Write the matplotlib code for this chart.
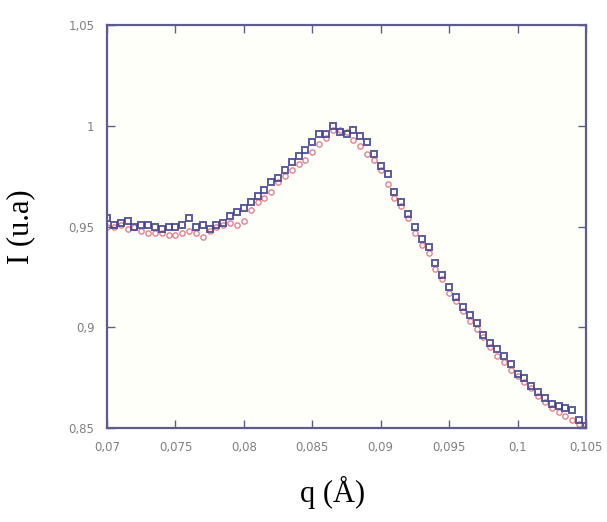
import numpy as np
import matplotlib
matplotlib.use("Agg")
import matplotlib.pyplot as plt
from matplotlib.ticker import FixedLocator, FixedFormatter

q = [0.0700, 0.0705, 0.0710, 0.0715, 0.0720, 0.0725, 0.0730, 0.0735, 0.0740, 0.0745,
     0.0750, 0.0755, 0.0760, 0.0765, 0.0770, 0.0775, 0.0780, 0.0785, 0.0790, 0.0795,
     0.0800, 0.0805, 0.0810, 0.0815, 0.0820, 0.0825, 0.0830, 0.0835, 0.0840, 0.0845,
     0.0850, 0.0855, 0.0860, 0.0865, 0.0870, 0.0875, 0.0880, 0.0885, 0.0890, 0.0895,
     0.0900, 0.0905, 0.0910, 0.0915, 0.0920, 0.0925, 0.0930, 0.0935, 0.0940, 0.0945,
     0.0950, 0.0955, 0.0960, 0.0965, 0.0970, 0.0975, 0.0980, 0.0985, 0.0990, 0.0995,
     0.1000, 0.1005, 0.1010, 0.1015, 0.1020, 0.1025, 0.1030, 0.1035, 0.1040, 0.1045,
     0.1050]

I_blue = [0.954, 0.951, 0.952, 0.953, 0.950, 0.951, 0.951, 0.950, 0.949, 0.950,
          0.950, 0.951, 0.954, 0.950, 0.951, 0.949, 0.951, 0.952, 0.955, 0.957,
          0.959, 0.962, 0.965, 0.968, 0.972, 0.974, 0.978, 0.982, 0.985, 0.988,
          0.992, 0.996, 0.996, 1.000, 0.997, 0.996, 0.998, 0.995, 0.992, 0.986,
          0.980, 0.976, 0.967, 0.962, 0.956, 0.950, 0.944, 0.940, 0.932, 0.926,
          0.920, 0.915, 0.910, 0.906, 0.902, 0.896, 0.892, 0.889, 0.886, 0.882,
          0.877, 0.875, 0.871, 0.868, 0.865, 0.862, 0.861, 0.860, 0.859, 0.854,
          0.851]

I_red = [0.950, 0.950, 0.951, 0.949, 0.950, 0.948, 0.947, 0.947, 0.947, 0.946,
         0.946, 0.947, 0.948, 0.947, 0.945, 0.948, 0.950, 0.951, 0.952, 0.951,
         0.953, 0.958, 0.962, 0.964, 0.967, 0.972, 0.975, 0.978, 0.981, 0.983,
         0.987, 0.991, 0.994, 0.998, 0.998, 0.997, 0.993, 0.990, 0.986, 0.983,
         0.978, 0.971, 0.964, 0.960, 0.954, 0.947, 0.941, 0.937, 0.929, 0.924,
         0.917, 0.913, 0.908, 0.903, 0.899, 0.895, 0.890, 0.886, 0.883, 0.879,
         0.876, 0.873, 0.870, 0.866, 0.863, 0.860, 0.858, 0.856, 0.854, 0.852,
         0.850]

x_ticks = [0.07, 0.075, 0.08, 0.085, 0.09, 0.095, 0.1, 0.105]
x_labels = ["0,07", "0,075", "0,08", "0,085", "0,09", "0,095", "0,1", "0,105"]
y_ticks = [0.85, 0.9, 0.95, 1.0, 1.05]
y_labels = ["0,85", "0,9", "0,95", "1", "1,05"]

fig = plt.figure(figsize=(6.07, 5.22), dpi=100)
ax = fig.add_axes([0.1763, 0.180, 0.7891, 0.772])
ax.set_facecolor("#fffff9")

ax.plot(q, I_red, linestyle="none", marker="o", markersize=3.8,
        markerfacecolor="none", markeredgecolor="#e0607a", markeredgewidth=1.0, alpha=0.8)
ax.plot(q, I_blue, linestyle="none", marker="s", markersize=4.2,
        markerfacecolor="none", markeredgecolor="#40408c", markeredgewidth=1.4, alpha=0.85)

ax.set_xlim(0.07, 0.105)
ax.set_ylim(0.85, 1.05)
ax.xaxis.set_major_locator(FixedLocator(x_ticks))
ax.xaxis.set_major_formatter(FixedFormatter(x_labels))
ax.yaxis.set_major_locator(FixedLocator(y_ticks))
ax.yaxis.set_major_formatter(FixedFormatter(y_labels))

spine_color = "#5c5c8e"
for s in ax.spines.values():
    s.set_color(spine_color)
    s.set_linewidth(1.6)
ax.tick_params(direction="in", length=6, width=1.0, color=spine_color,
               top=True, right=True, labelsize=8.5, labelcolor="#808080", pad=9)

ax.set_xlabel("q (Å)", fontfamily="Liberation Serif", fontsize=22)
ax.set_ylabel("I (u.a)", fontfamily="Liberation Serif", fontsize=22)
ax.xaxis.set_label_coords(0.47, -0.12)
ax.yaxis.set_label_coords(-0.15, 0.5)

fig.savefig("out.png", dpi=100, facecolor="white")
